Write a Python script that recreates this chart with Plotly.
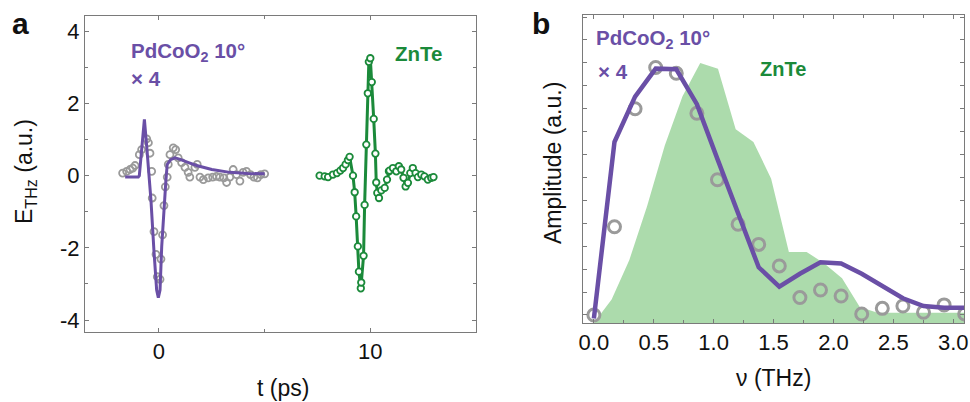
import plotly.graph_objects as go

# ---------------- Panel a data ----------------
t_fit = [-1.6, -0.98, -0.93, -0.82, -0.69, -0.58, -0.38, -0.24, -0.11, -0.03, 0.05, 0.13,
         0.24, 0.33, 0.39, 0.55, 0.76, 1.0, 1.4, 1.78, 2.5, 3.35, 4.2, 5.0]
E_fit = [-0.04, -0.04, 0.0, 0.7, 1.56, 0.81, -0.67, -2.06, -3.17, -3.38, -3.17, -1.96,
         -0.76, -0.11, 0.31, 0.44, 0.49, 0.45, 0.36, 0.28, 0.17, 0.09, 0.06, 0.05]

t_pd = [-1.72, -1.53, -1.37, -1.24, -1.13, -0.93, -0.82, -0.58, -0.5, -0.425, -0.345, -0.32,
        -0.236, -0.14, -0.08, 0.05, 0.094, 0.17, 0.236, 0.3, 0.39, 0.44, 0.52, 0.675, 0.79,
        0.91, 1.07, 1.23, 1.38, 1.46, 1.7, 1.81, 1.94, 2.1, 2.33, 2.54, 2.72, 2.88, 3.07,
        3.2, 3.35, 3.51, 3.67, 3.83, 3.98, 4.14, 4.33, 4.49, 4.66, 4.82, 5.0]
E_pd = [0.07, 0.12, 0.17, 0.21, 0.28, 0.58, 0.72, 1.02, 0.91, 0.62, 0.12, -0.62,
        -1.55, -2.18, -2.8, -2.87, -2.31, -1.64, -0.83, -0.31, -0.04, 0.31, 0.58, 0.77, 0.72,
        0.49, 0.36, 0.23, 0.09, -0.04, 0.23, 0.31, -0.04, -0.11, -0.06, -0.04, -0.02, -0.04, -0.06,
        -0.19, -0.04, 0.17, 0.03, -0.15, 0.09, 0.12, 0.03, -0.04, -0.06, 0.03, 0.05]

t_zn = [7.6, 7.84, 8.0, 8.23, 8.42, 8.58, 8.71, 8.83, 8.94, 9.02, 9.18, 9.26, 9.33, 9.41,
        9.46, 9.55, 9.57, 9.68, 9.73, 9.81, 9.88, 9.93, 10.0, 10.07, 10.16, 10.24, 10.28,
        10.33, 10.41, 10.52, 10.68, 10.79, 10.88, 10.91, 11.07, 11.23, 11.35, 11.46, 11.57,
        11.67, 11.78, 11.89, 12.01, 12.14, 12.25, 12.41, 12.56, 12.72, 12.88, 12.99]
E_zn = [0.0, -0.02, -0.04, 0.03, 0.07, 0.14, 0.21, 0.31, 0.43, 0.52, 0.0, -0.46, -1.13, -1.96,
        -2.66, -3.12, -2.96, -2.22, -0.81, 0.86, 2.28, 3.15, 3.25, 2.59, 1.57, 0.61, -0.19,
        -0.48, -0.62, -0.41, -0.34, -0.11, 0.12, 0.14, 0.21, 0.12, 0.26, 0.17, -0.06,
        -0.3, -0.2, 0.07, 0.21, 0.07, -0.04, 0.03, -0.02, -0.11, -0.06, -0.04]

# ---------------- Panel b data ----------------
f_meas = [0.0, 0.172, 0.344, 0.516, 0.688, 0.86, 1.032, 1.204, 1.376, 1.548, 1.72, 1.892,
          2.064, 2.236, 2.408, 2.58, 2.752, 2.924, 3.096]
A_meas = [0.035, 0.42, 0.935, 1.115, 1.09, 0.915, 0.625, 0.431, 0.343, 0.249, 0.111, 0.144,
          0.118, 0.039, 0.064, 0.074, 0.047, 0.079, 0.039]
A_fit = [0.02, 0.79, 0.988, 1.11, 1.107, 0.955, 0.715, 0.475, 0.243, 0.159, 0.215, 0.265,
         0.26, 0.215, 0.159, 0.108, 0.074, 0.067, 0.067]

f_zn = [0.0, 0.148, 0.296, 0.444, 0.592, 0.74, 0.888, 1.036, 1.184, 1.332, 1.48, 1.628,
        1.776, 1.924, 2.072, 2.22, 2.368, 2.516, 2.664, 2.812, 2.96, 3.108]
A_zn = [0.0, 0.103, 0.275, 0.51, 0.775, 0.99, 1.135, 1.11, 0.845, 0.79, 0.63, 0.31,
        0.31, 0.26, 0.195, 0.07, 0.045, 0.045, 0.045, 0.045, 0.045, 0.045]

PURPLE = "#6a4fa6"
GREEN = "#1b8a3a"
GRAY = "#9a9a9a"
FILL = "rgba(140,205,140,0.72)"
FONT = "Liberation Sans, Arial, sans-serif"

W, H = 970, 402

def px(x):
    return x / W

def py(y):
    return 1 - y / H

fig = go.Figure()

# Panel a
fig.add_trace(go.Scatter(x=t_pd, y=E_pd, mode="markers", xaxis="x", yaxis="y",
                         marker=dict(symbol="circle-open", size=7, color=GRAY,
                                     line=dict(width=1.8, color=GRAY)),
                         showlegend=False))
fig.add_trace(go.Scatter(x=t_fit, y=E_fit, mode="lines", xaxis="x", yaxis="y",
                         line=dict(color=PURPLE, width=3), showlegend=False))
fig.add_trace(go.Scatter(x=t_zn, y=E_zn, mode="lines+markers", xaxis="x", yaxis="y",
                         line=dict(color=GREEN, width=3),
                         marker=dict(symbol="circle", size=6.5, color="white",
                                     line=dict(width=1.8, color=GREEN)),
                         showlegend=False))

# Panel b
fig.add_trace(go.Scatter(x=f_zn, y=A_zn, mode="lines", fill="tozeroy", xaxis="x2", yaxis="y2",
                         line=dict(width=0, color=FILL), fillcolor=FILL, showlegend=False))
fig.add_trace(go.Scatter(x=f_meas, y=A_meas, mode="markers", xaxis="x2", yaxis="y2",
                         marker=dict(symbol="circle-open", size=12, color=GRAY,
                                     line=dict(width=3, color=GRAY)),
                         showlegend=False))
fig.add_trace(go.Scatter(x=f_meas, y=A_fit, mode="lines", xaxis="x2", yaxis="y2",
                         line=dict(color=PURPLE, width=4.5), showlegend=False))

axis_common = dict(showline=True, linecolor="#7a7a7a", linewidth=1, mirror="ticks",
                   ticks="inside", ticklen=4, tickcolor="#7a7a7a", showgrid=False,
                   zeroline=False, automargin=False,
                   tickfont=dict(family=FONT, size=22, color="#111"))

fig.update_layout(
    width=W, height=H,
    margin=dict(l=0, r=0, t=0, b=0),
    paper_bgcolor="white", plot_bgcolor="white",
    hovermode=False,
    font=dict(family=FONT, color="#111"),
    xaxis=dict(domain=[px(85), px(476)], range=[-3.5, 15], tickvals=[0, 10],
               minor=dict(tickvals=[5], ticks="inside", ticklen=3, tickcolor="#7a7a7a"),
               anchor="y", **axis_common),
    yaxis=dict(domain=[py(332), py(16)], range=[-4.33, 4.42], tickvals=[-4, -2, 0, 2, 4],
               ticktext=["-4", "-2", "0", "2", "4"],
               minor=dict(tickvals=[-3, -1, 1, 3], ticks="inside", ticklen=3, tickcolor="#7a7a7a"),
               anchor="x", **axis_common),
    xaxis2=dict(domain=[px(582.5), px(964)], range=[-0.095, 3.09], dtick=0.5, tickformat=".1f",
                minor=dict(dtick=0.25, ticks="inside", ticklen=3, tickcolor="#7a7a7a"),
                anchor="y2", **axis_common),
    yaxis2=dict(domain=[py(323), py(15)], range=[0, 1.344], tick0=0.035, dtick=0.1,
                showticklabels=False, anchor="x2", **axis_common),
)

def ann(x, y, text, size, color="#111", xanchor="center", angle=0):
    fig.add_annotation(x=px(x), y=py(y), xref="paper", yref="paper", text=text,
                       showarrow=False, xanchor=xanchor, yanchor="middle", textangle=angle,
                       font=dict(family=FONT, size=size, color=color))

ann(20, 24, "<b>a</b>", 30)
ann(541, 24, "<b>b</b>", 30)
ann(25, 172, "E<sub>THz</sub> (a.u.)", 23, angle=-90)
ann(553, 163, "Amplitude (a.u.)", 23, angle=-90)
ann(283, 388, "t (ps)", 23)
ann(773, 378, "ν (THz)", 23)

ann(129, 52, "<b>PdCoO<sub>2</sub> 10°</b>", 20.5, PURPLE, xanchor="left")
ann(129, 78, "<b>× 4</b>", 20.5, PURPLE, xanchor="left")
ann(418, 53, "<b>ZnTe</b>", 20.5, GREEN)
ann(594, 39, "<b>PdCoO<sub>2</sub> 10°</b>", 20.5, PURPLE, xanchor="left")
ann(596, 71, "<b>× 4</b>", 20.5, PURPLE, xanchor="left")
ann(783, 69, "<b>ZnTe</b>", 20, GREEN)

fig.write_html("out.html", config={"displayModeBar": False},
               post_script="document.body.style.margin='0';document.body.style.overflow='hidden';")
